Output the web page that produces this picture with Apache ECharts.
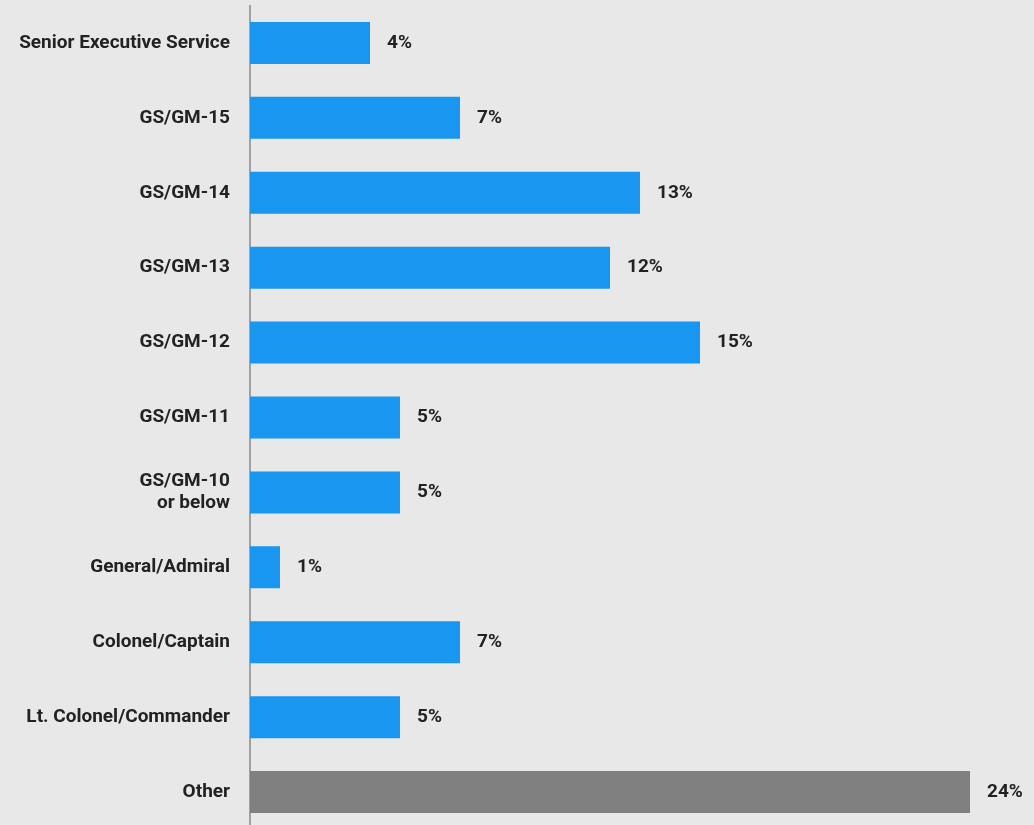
<!DOCTYPE html>
<html>
<head>
<meta charset="utf-8">
<script src="https://cdn.jsdelivr.net/npm/echarts@6/dist/echarts.min.js"></script>
<style>
  html, body { margin: 0; padding: 0; background: #e8e8e8; }
  #chart { width: 1034px; height: 825px; }
</style>
</head>
<body>
<div id="chart"></div>
<script>
const categories = [
  'Senior Executive Service',
  'GS/GM-15',
  'GS/GM-14',
  'GS/GM-13',
  'GS/GM-12',
  'GS/GM-11',
  'GS/GM-10\nor below',
  'General/Admiral',
  'Colonel/Captain',
  'Lt. Colonel/Commander',
  'Other'
]
const shares = [4, 7, 13, 12, 15, 5, 5, 1, 7, 5, 24]
const otherIndex = 10

const chart = echarts.init(document.getElementById('chart'))

const fontFamily = 'Roboto, "Noto Sans", sans-serif'

chart.setOption({
  backgroundColor: '#e8e8e8',
  animation: false,
  grid: {
    left: 250,
    width: 780,
    top: 5.5,
    height: 824,
    containLabel: false,
    outerBoundsMode: 'none'
  },
  xAxis: {
    type: 'value',
    min: 0,
    max: 26,
    show: false
  },
  yAxis: {
    type: 'category',
    data: categories,
    inverse: true,
    axisLine: {
      show: true,
      lineStyle: { color: '#8a8a8a', width: 1.5 }
    },
    axisTick: { show: false },
    axisLabel: {
      margin: 20,
      color: '#222',
      fontFamily: fontFamily,
      fontWeight: 'bold',
      fontSize: 19,
      lineHeight: 22,
      align: 'right'
    }
  },
  series: [
    {
      type: 'bar',
      data: shares.map((v, i) => ({
        value: v,
        itemStyle: { color: i === otherIndex ? '#808080' : '#1896f0' }
      })),
      barWidth: 42,
      label: {
        show: true,
        position: 'right',
        distance: 17,
        color: '#222',
        fontFamily: fontFamily,
        fontWeight: 'bold',
        fontSize: 19,
        formatter: '{c}%'
      }
    }
  ]
})
</script>
</body>
</html>
